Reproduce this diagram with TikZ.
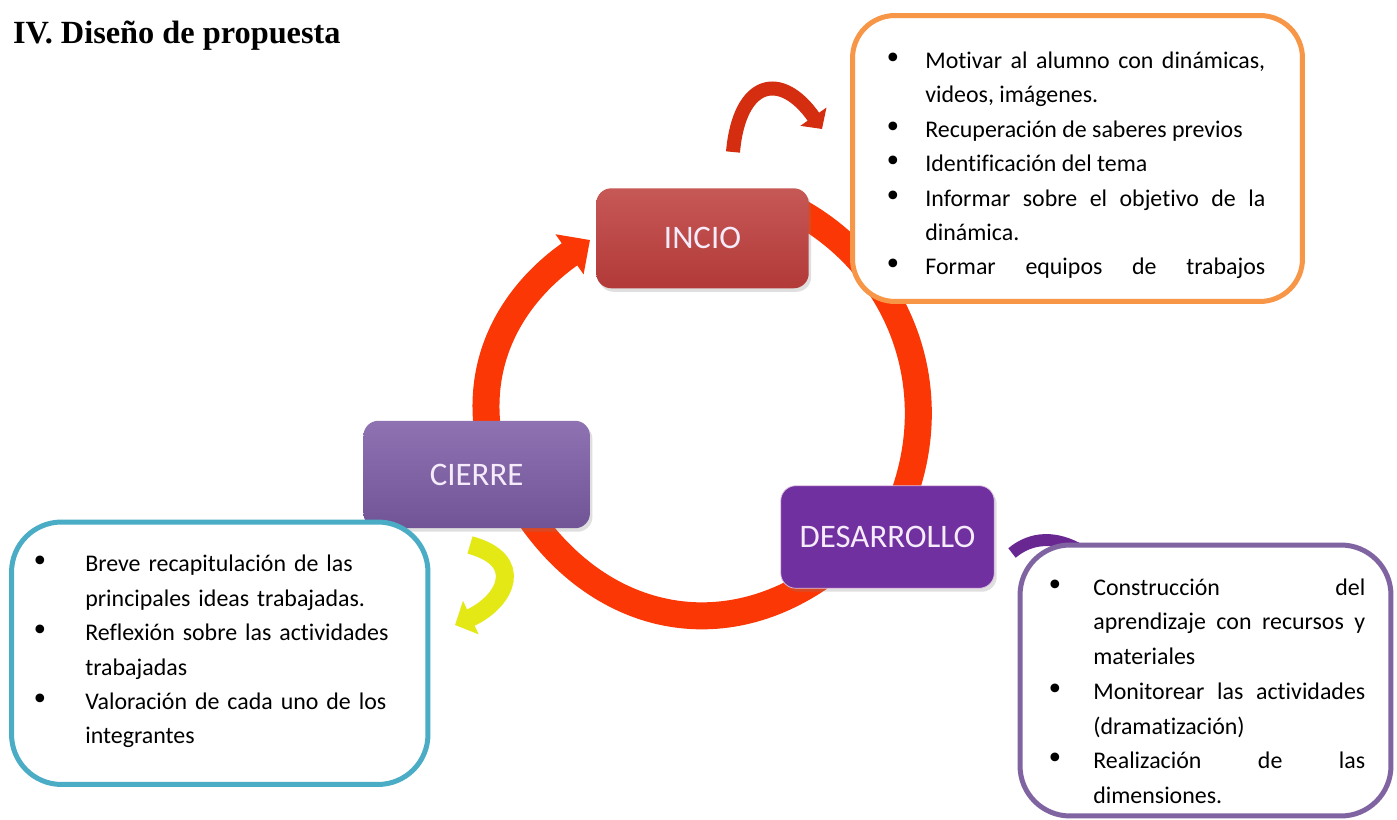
\documentclass[tikz,border=0pt]{standalone}
\usepackage{fontspec}
\setmainfont{Carlito}[Ligatures={NoCommon}]
\newfontfamily\titlefont{Liberation Serif}
\newfontfamily\bulletfont{DejaVu Sans}
\usepackage{tikz}
\usetikzlibrary{arrows.meta, shadows}

\definecolor{ringred}{RGB}{250,55,5}
\definecolor{arrowred}{RGB}{212,45,15}
\definecolor{arrowyellow}{RGB}{228,232,20}
\definecolor{arrowpurple}{RGB}{105,40,145}
\definecolor{stagetext}{RGB}{245,235,250}
\definecolor{boxorange}{RGB}{247,150,70}
\definecolor{boxblue}{RGB}{75,172,198}
\definecolor{boxpurple}{RGB}{128,100,162}

\tikzstyle{ring} = [line width=0.54cm, draw=ringred]
\tikzstyle{curl} = [line width=0.28cm]

\hyphenpenalty=10000
\exhyphenpenalty=10000
\tolerance=9999
\emergencystretch=3em
\newcommand{\itm}[1]{\noindent\llap{{\bulletfont\fontsize{17}{19}\selectfont\char"2022}\hspace*{#1}}}

\begin{document}
\begin{tikzpicture}[x=0.02cm,y=0.02cm,
	stage/.style={rectangle, rounded corners=0.3cm, minimum width=4.25cm, minimum height=2cm, text=stagetext, font=\fontsize{18.7}{22}\selectfont, drop shadow={shadow xshift=0.5mm, shadow yshift=-0.7mm, opacity=0.25}},
	listbox/.style={rectangle, line width=0.1cm, fill=white},
	list/.style={anchor=base west, inner sep=0pt, font=\fontsize{13.6}{19.6}\selectfont}]

	\fill[white] (0,0) rectangle (1397,819);
	\useasboundingbox (0,0) rectangle (1397,819);

	\node[anchor=base west, inner sep=0pt, font=\titlefont\bfseries\fontsize{18.4}{22}\selectfont] (T) at (12.7,775.7) {IV. Diseño de propuesta};

	% the cycle
	\coordinate (l1) at (489,379);
	\coordinate (l2) at (590,579);
	\coordinate (r1) at (790,612);
	\coordinate (r2) at (902,319);
	\coordinate (b1) at (830,249);
	\coordinate (b2) at (525,309);

	\draw[ring,-{Triangle[length=0.5cm,width=0.95cm]}] (l1) to[out=100,in=215] (l2);
	\draw[ring] (r1) to[out=-27,in=69] (r2);
	\draw[ring] (b1) to[out=217,in=-57,looseness=1.1] (b2);

	% small curls
	\coordinate (u1) at (733,667);
	\coordinate (u2) at (822,690);
	\draw[curl, draw=arrowred, -{Triangle[length=0.3cm,width=0.62cm]}] (u1) to[out=85,in=125,looseness=2] (u2);

	\coordinate (y1) at (470,274);
	\coordinate (y2) at (455,194);
	\draw[curl, line width=0.36cm, draw=arrowyellow, -{Triangle[length=0.35cm,width=0.72cm]}] (y1) to[out=-15,in=25,looseness=1.8] (y2);

	\coordinate (p1) at (1012,266);
	\coordinate (p2) at (1080,269);
	\draw[curl, line width=0.24cm, draw=arrowpurple] (p1) to[out=40,in=150] (p2);

	\node[stage, top color={rgb,255:red,198;green,88;blue,86}, bottom color={rgb,255:red,178;green,58;blue,56}] (1) at (702.5,580.7) {INCIO};
	\node[stage, minimum width=4.53cm, minimum height=2.15cm, top color={rgb,255:red,142;green,114;blue,178}, bottom color={rgb,255:red,112;green,84;blue,150}] (2) at (476.7,344.5) {CIERRE};
	\node[stage, minimum width=4.27cm, minimum height=2.05cm, fill={rgb,255:red,112;green,48;blue,160}, draw=violet!25, line width=0.4pt] (3) at (887.5,282) {DESARROLLO};

	% lists
	\node[listbox, draw=boxorange, rounded corners=0.85cm, minimum width=9cm, minimum height=5.72cm] (4) at (1077.5,660.5) {};
	\node[listbox, draw=boxblue, rounded corners=1cm, minimum width=8.33cm, minimum height=5.25cm] (5) at (219.75,165.75) {};
	\node[listbox, draw=boxpurple, rounded corners=1cm, minimum width=7.42cm, minimum height=5.42cm] (6) at (1205.5,138.5) {};

	\node[list, text width=6.8cm, align=justify] (7) at (925,750.7) {%
		\itm{13pt}Motivar al alumno con dinámicas,\linebreak videos, imágenes.\par
		\itm{13pt}Recuperación de saberes previos\par
		\itm{13pt}Identificación del tema\par
		\itm{13pt}Informar sobre el objetivo de la\linebreak dinámica.\par
		\itm{13pt}Formar equipos de trabajos\parfillskip=0pt\par};

	\node[list, text width=6.1cm, align=left] (8) at (85,247.3) {%
		\itm{20.5pt}Breve recapitulación de las\\ principales ideas trabajadas.\par
		\itm{20.5pt}Reflexión sobre las actividades\\ trabajadas\par
		\itm{20.5pt}Valoración de cada uno de los\\ integrantes};

	\begin{scope}
		\clip (1020,14) rectangle (1397,280);
		\node[list, text width=5.44cm, align=justify, font=\fontsize{13.6}{19.8}\selectfont] (9) at (1093,224) {%
			\itm{16.5pt}Construcción del\linebreak aprendizaje con recursos y\linebreak materiales\par
			\itm{16.5pt}Monitorear las actividades\linebreak (dramatización)\par
			\itm{16.5pt}Realización de las\linebreak dimensiones.};
	\end{scope}

\end{tikzpicture}
\end{document}
